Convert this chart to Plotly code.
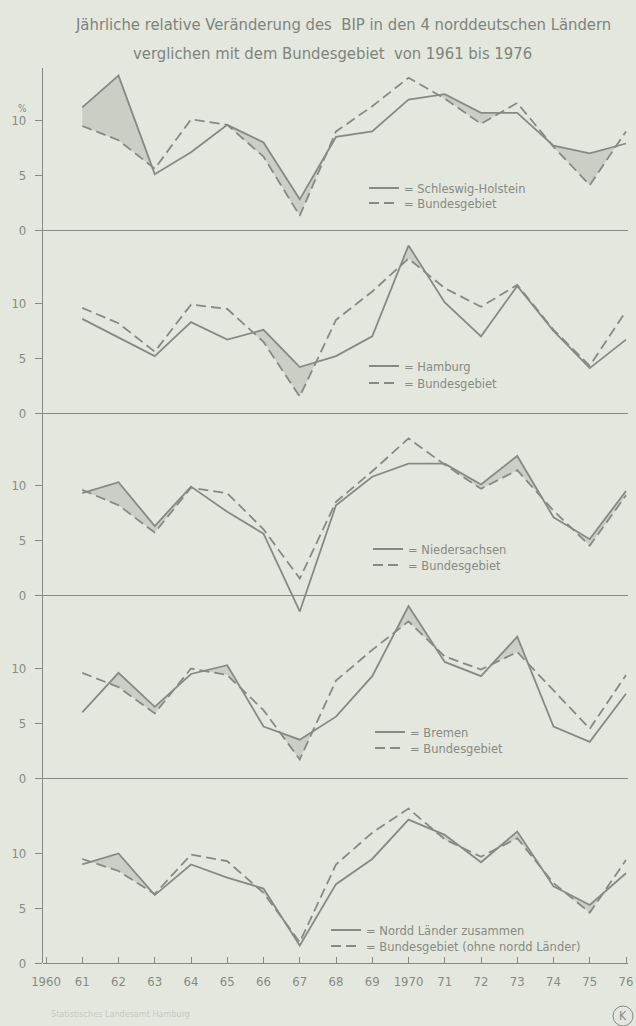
import plotly.graph_objects as go

years = list(range(1961, 1977))

sh = [11.2, 14.1, 5.1, 7.1, 9.6, 8.0, 2.8, 8.5, 9.0, 11.9, 12.4, 10.7, 10.7, 7.7, 7.0, 7.9]
bund_1 = [9.5, 8.2, 5.6, 10.1, 9.6, 6.7, 1.3, 9.0, 11.3, 13.9, 12.0, 9.7, 11.6, 7.6, 4.1, 9.0]

hh = [8.6, 6.9, 5.2, 8.3, 6.7, 7.6, 4.2, 5.2, 7.0, 15.3, 10.1, 7.0, 11.6, 7.5, 4.1, 6.7]
bund_2 = [9.6, 8.2, 5.6, 9.9, 9.5, 6.5, 1.5, 8.5, 11.1, 14.1, 11.4, 9.7, 11.7, 7.6, 4.3, 9.3]

nds = [9.3, 10.3, 6.3, 9.9, 7.6, 5.6, -1.5, 8.2, 10.8, 12.0, 12.0, 10.1, 12.7, 7.1, 5.1, 9.5]
bund_3 = [9.6, 8.2, 5.7, 9.8, 9.3, 6.0, 1.5, 8.5, 11.3, 14.3, 11.9, 9.7, 11.4, 7.7, 4.5, 9.1]

hb = [6.0, 9.6, 6.5, 9.5, 10.3, 4.7, 3.5, 5.6, 9.3, 15.7, 10.6, 9.3, 12.9, 4.7, 3.3, 7.7]
bund_4 = [9.6, 8.3, 5.9, 10.0, 9.4, 6.2, 1.7, 8.9, 11.7, 14.3, 11.1, 9.9, 11.5, 8.0, 4.5, 9.4]

nord = [9.0, 10.0, 6.2, 9.0, 7.8, 6.8, 1.6, 7.2, 9.5, 13.1, 11.7, 9.2, 12.0, 7.0, 5.3, 8.2]
bund_ohne = [9.5, 8.4, 6.3, 9.9, 9.3, 6.4, 1.9, 9.0, 11.9, 14.1, 11.3, 9.7, 11.4, 7.3, 4.6, 9.4]

region_names = ["Schleswig-Holstein", "Hamburg", "Niedersachsen", "Bremen", "Nordd Länder zusammen"]
ref_names = ["Bundesgebiet", "Bundesgebiet", "Bundesgebiet", "Bundesgebiet",
             "Bundesgebiet (ohne nordd Länder)"]
regions = [sh, hh, nds, hb, nord]
refs = [bund_1, bund_2, bund_3, bund_4, bund_ohne]

x_ticks = list(range(1960, 1977))
x_labels = ["1960", "61", "62", "63", "64", "65", "66", "67", "68", "69",
            "1970", "71", "72", "73", "74", "75", "76"]
y_ticks = [0, 5, 10]

TITLE_1 = "Jährliche relative Veränderung des  BIP in den 4 norddeutschen Ländern"
TITLE_2 = "verglichen mit dem Bundesgebiet  von 1961 bis 1976"

# ---- styling / geometry ----
W, H = 636, 1026
BG = "#e3e7de"
LINE = "#858a83"
FILL = "#cacec5"
TXT = "#868b83"
TITLE_C = "#7e847b"
FONT = "Liberation Sans Narrow, DejaVu Sans Condensed, Arial Narrow, sans-serif"
LEG_FONT = "DejaVu Sans, Verdana, sans-serif"

U = 10.95                     # px per percent unit
ZERO_PX = [230, 413, 595, 778, 963]
TOP1_PX = 68
X0_PX, X1_PX = 43, 628
PX_PER_YEAR = 36.25
X_RANGE = [1960 - 3 / PX_PER_YEAR, 1976 + 2 / PX_PER_YEAR]

LEG_PX = [  # (sample start x, row1 y, row2 y)
    (369, 187, 202),
    (369, 365, 382),
    (373, 548, 564),
    (375, 731, 747),
    (331, 929, 945),
]


def py(px):
    return 1 - px / H


def px_x(px):
    return px / W


fig = go.Figure()
layout = dict(
    width=W, height=H,
    paper_bgcolor=BG, plot_bgcolor="rgba(0,0,0,0)",
    margin=dict(l=0, r=0, t=0, b=0, autoexpand=False),
    font=dict(family=FONT, color=TXT, size=11),
    showlegend=True,
)


def between(xs, r, b):
    """Polygon vertices of the area where r lies above b (incl. crossings)."""
    X, up, lo = [], [], []
    n = len(xs)
    for i in range(n):
        X.append(xs[i]); up.append(max(r[i], b[i])); lo.append(b[i])
        if i < n - 1:
            d0, d1 = r[i] - b[i], r[i + 1] - b[i + 1]
            if d0 * d1 < 0:
                t = d0 / (d0 - d1)
                xc = xs[i] + t * (xs[i + 1] - xs[i])
                yc = b[i] + t * (b[i + 1] - b[i])
                X.append(xc); up.append(yc); lo.append(yc)
    return X, up, lo


for k in range(5):
    ax = "" if k == 0 else str(k + 1)
    xa, ya = "x" + ax, "y" + ax
    zero = ZERO_PX[k]
    top = TOP1_PX if k == 0 else ZERO_PX[k - 1]
    bottom = zero if k == 4 else zero + 2.2 * U
    yr = [-(bottom - zero) / U, (zero - top) / U]

    X, up, lo = between(years, regions[k], refs[k])
    fig.add_trace(go.Scatter(x=X, y=lo, mode="lines", line=dict(width=0, color=LINE),
                             showlegend=False, hoverinfo="skip", xaxis=xa, yaxis=ya))
    fig.add_trace(go.Scatter(x=X, y=up, mode="lines", line=dict(width=0, color=LINE),
                             fill="tonexty", fillcolor=FILL,
                             showlegend=False, hoverinfo="skip", xaxis=xa, yaxis=ya))
    leg1 = "legend" if k == 0 else "legend" + str(2 * k + 1)
    leg2 = "legend" + str(2 * k + 2)
    fig.add_trace(go.Scatter(x=years, y=refs[k], mode="lines", name="= " + ref_names[k],
                             line=dict(color=LINE, width=1.8, dash="10px,5px"),
                             legend=leg2, xaxis=xa, yaxis=ya))
    fig.add_trace(go.Scatter(x=years, y=regions[k], mode="lines", name="= " + region_names[k],
                             line=dict(color=LINE, width=1.8),
                             legend=leg1, xaxis=xa, yaxis=ya))

    sx, r1, r2 = LEG_PX[k]
    for lg, ry in ((leg1, r1), (leg2, r2)):
        layout[lg] = dict(x=px_x(sx - 5), y=py(ry - 13.5), xanchor="left", yanchor="top",
                          bgcolor="rgba(0,0,0,0)", borderwidth=0,
                          font=dict(family=LEG_FONT, size=11.5, color=TXT),
                          itemwidth=30, tracegroupgap=0)

    layout["xaxis" + ax] = dict(
        domain=[X0_PX / W, X1_PX / W], range=X_RANGE, anchor=ya,
        visible=(k == 4), showgrid=False, zeroline=False, showline=False,
        automargin=False,
        tickmode="array", tickvals=x_ticks, ticktext=x_labels,
        ticks="inside", ticklen=6, tickcolor=LINE, tickwidth=1,
        ticklabelstandoff=9,
        tickfont=dict(family=FONT, size=13, color=TXT),
    )
    layout["yaxis" + ax] = dict(
        domain=[py(bottom), py(top)], range=yr, anchor=xa,
        showgrid=False, zeroline=True, zerolinecolor=LINE, zerolinewidth=1.2,
        showline=True, linecolor=LINE, linewidth=1.2, automargin=False,
        tickmode="array", tickvals=y_ticks, ticktext=[str(v) for v in y_ticks],
        ticks="outside", ticklen=7, tickcolor=LINE, tickwidth=1,
        ticklabelstandoff=6,
        tickfont=dict(family=FONT, size=13, color=TXT),
    )

layout["annotations"] = [
    dict(text=TITLE_1, x=px_x(343), y=py(24), xref="paper", yref="paper",
         xanchor="center", yanchor="middle", showarrow=False,
         font=dict(family=FONT, size=16.5, color=TITLE_C)),
    dict(text=TITLE_2, x=px_x(332), y=py(54), xref="paper", yref="paper",
         xanchor="center", yanchor="middle", showarrow=False,
         font=dict(family=FONT, size=16.5, color=TITLE_C)),
    dict(text="%", x=px_x(22), y=py(108), xref="paper", yref="paper",
         xanchor="center", yanchor="middle", showarrow=False,
         font=dict(family=FONT, size=10, color=TXT)),
    dict(text="Statistisches Landesamt Hamburg", x=px_x(49), y=py(1014), xref="paper",
         yref="paper", xanchor="left", yanchor="middle", showarrow=False,
         font=dict(family=FONT, size=9, color="#c6cac1")),
    dict(text="K", x=px_x(623), y=py(1016), xref="paper", yref="paper",
         xanchor="center", yanchor="middle", showarrow=False,
         font=dict(family=FONT, size=12, color=TXT)),
]
layout["shapes"] = [
    dict(type="circle", xref="paper", yref="paper",
         x0=px_x(613), x1=px_x(633), y0=py(1026), y1=py(1006),
         line=dict(color=TXT, width=1)),
]

fig.update_layout(**layout)
fig.write_html("out.html", config={"displayModeBar": False},
               post_script="document.body.style.margin='0';")
